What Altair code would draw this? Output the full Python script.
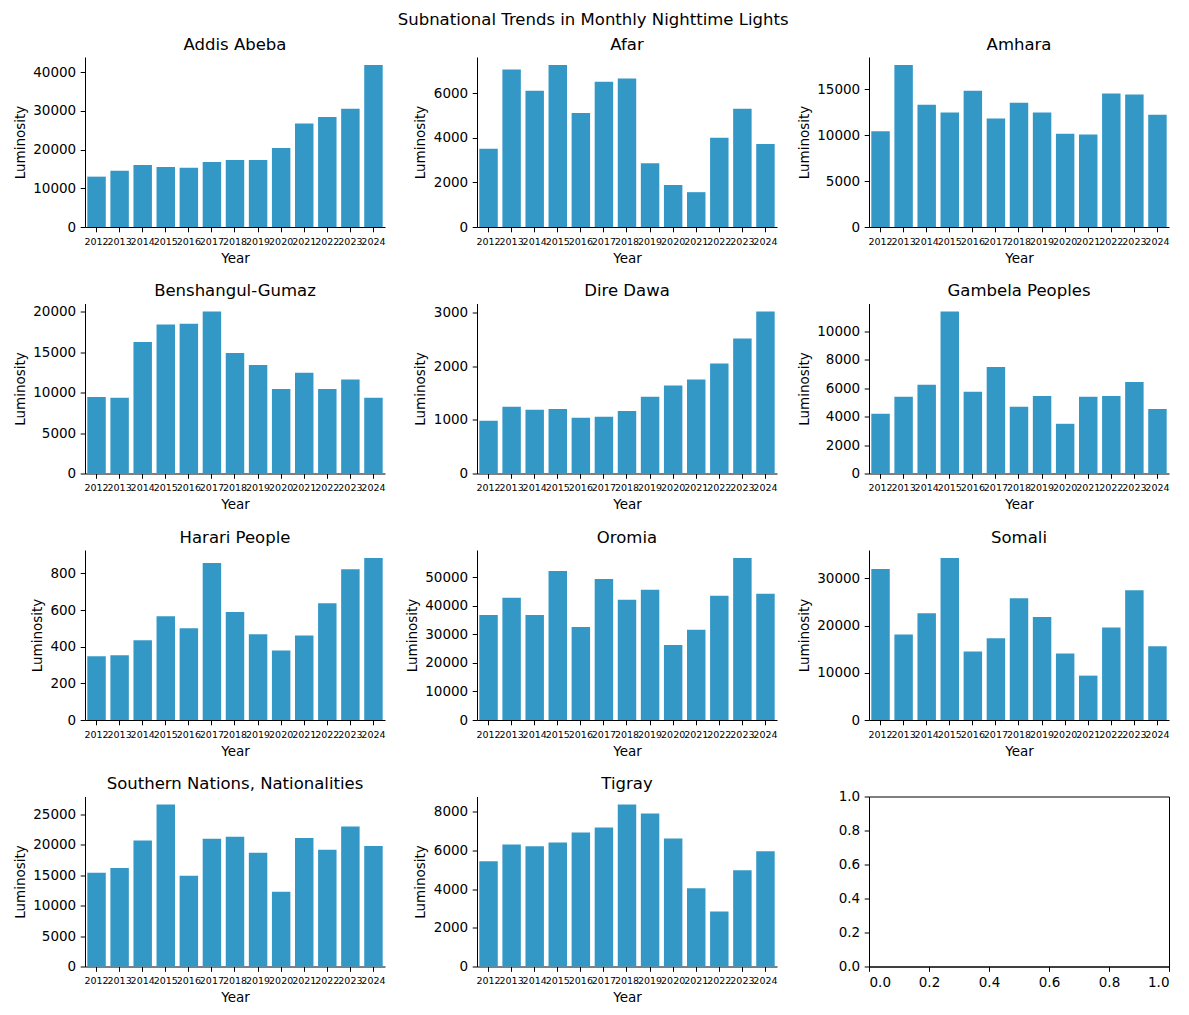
import altair as alt
import pandas as pd

years = [str(y) for y in range(2012, 2025)]

regions = [
    "Addis Abeba", "Afar", "Amhara",
    "Benshangul-Gumaz", "Dire Dawa", "Gambela Peoples",
    "Harari People", "Oromia", "Somali",
    "Southern Nations, Nationalities", "Tigray",
]

addis_abeba = [13000, 14500, 16000, 15500, 15300, 16800, 17300, 17300, 20400, 26700, 28400, 30500, 41800]
afar = [3500, 7050, 6100, 7250, 5100, 6500, 6650, 2850, 1880, 1560, 4000, 5300, 3720]
amhara = [10400, 17600, 13300, 12450, 14800, 11800, 13500, 12450, 10150, 10050, 14500, 14400, 12200]
benshangul = [9450, 9350, 16250, 18400, 18500, 20000, 14900, 13400, 10450, 12450, 10450, 11600, 9350]
dire_dawa = [985, 1245, 1190, 1205, 1040, 1060, 1170, 1435, 1645, 1755, 2055, 2520, 3025]
gambela = [4200, 5400, 6250, 11400, 5750, 7500, 4700, 5450, 3500, 5400, 5450, 6450, 4550]
harari = [348, 354, 436, 567, 501, 857, 590, 468, 380, 462, 638, 823, 884]
oromia = [36800, 42800, 36800, 52200, 32600, 49400, 42100, 45600, 26300, 31600, 43500, 56700, 44200]
somali = [32000, 18100, 22600, 34300, 14500, 17300, 25800, 21800, 14100, 9400, 19600, 27500, 15600]
snnp = [15400, 16200, 20700, 26600, 14900, 21000, 21300, 18700, 12300, 21100, 19200, 23000, 19800]
tigray = [5450, 6320, 6220, 6420, 6940, 7200, 8380, 7920, 6620, 4050, 2850, 4980, 5960]

series = [addis_abeba, afar, amhara, benshangul, dire_dawa, gambela,
          harari, oromia, somali, snnp, tigray]

y_ticks = [
    [0, 10000, 20000, 30000, 40000],
    [0, 2000, 4000, 6000],
    [0, 5000, 10000, 15000],
    [0, 5000, 10000, 15000, 20000],
    [0, 1000, 2000, 3000],
    [0, 2000, 4000, 6000, 8000, 10000],
    [0, 200, 400, 600, 800],
    [0, 10000, 20000, 30000, 40000, 50000],
    [0, 10000, 20000, 30000],
    [0, 5000, 10000, 15000, 20000, 25000],
    [0, 2000, 4000, 6000, 8000],
]

empty_ticks = [0.0, 0.2, 0.4, 0.6, 0.8, 1.0]

BAR_COLOR = "#3498c7"
W, H = 300, 170

panels = []
for name, vals, ticks in zip(regions, series, y_ticks):
    df = pd.DataFrame({"Year": years, "Luminosity": vals})
    ch = alt.Chart(df).mark_bar(color=BAR_COLOR).encode(
        x=alt.X("Year:N",
                scale=alt.Scale(paddingInner=0.2, paddingOuter=0.1),
                axis=alt.Axis(labelAngle=0, labelFontSize=9.5, labelOverlap=False,
                              title="Year")),
        y=alt.Y("Luminosity:Q",
                scale=alt.Scale(domain=[0, max(vals) * 1.05], nice=False, zero=True),
                axis=alt.Axis(values=ticks, format="d", title="Luminosity")),
    ).properties(
        width=W, height=H,
        title=alt.TitleParams(name, fontSize=16.5, fontWeight="normal", offset=4),
    )
    panels.append(ch)

empty_df = pd.DataFrame({"x": [0.0], "y": [0.0]})
empty = alt.Chart(empty_df).mark_point(opacity=0).encode(
    x=alt.X("x:Q", scale=alt.Scale(domain=[0, 1], nice=False),
            axis=alt.Axis(values=empty_ticks, format=".1f", title=None, labelFontSize=13.5)),
    y=alt.Y("y:Q", scale=alt.Scale(domain=[0, 1], nice=False),
            axis=alt.Axis(values=empty_ticks, format=".1f", title=None)),
).properties(width=W, height=H, view=alt.ViewBackground(stroke="black", strokeWidth=1))
panels.append(empty)

chart = alt.concat(
    *panels, columns=3, bounds="flush", spacing={"row": 76.5, "column": 92}
).properties(
    title=alt.TitleParams(
        "Subnational Trends in Monthly Nighttime Lights",
        fontSize=16.5, fontWeight="normal", anchor="middle", dx=1.5, offset=8,
    ),
    padding={"left": 5, "top": 4, "right": 5, "bottom": 5},
).configure(
    font="DejaVu Sans",
).configure_view(
    stroke=None,
).configure_axis(
    grid=False,
    domainColor="black",
    domainWidth=1,
    tickColor="black",
    tickSize=4.8,
    labelPadding=4.5,
    labelFont="DejaVu Sans",
    labelFontSize=13.5,
    labelColor="black",
    titleFont="DejaVu Sans",
    titleFontSize=13.5,
    titleFontWeight="normal",
    titleColor="black",
    titlePadding=5.5,
).configure_title(
    font="DejaVu Sans",
    color="black",
)

chart.save("out.html", embed_options={"renderer": "svg", "actions": False})
